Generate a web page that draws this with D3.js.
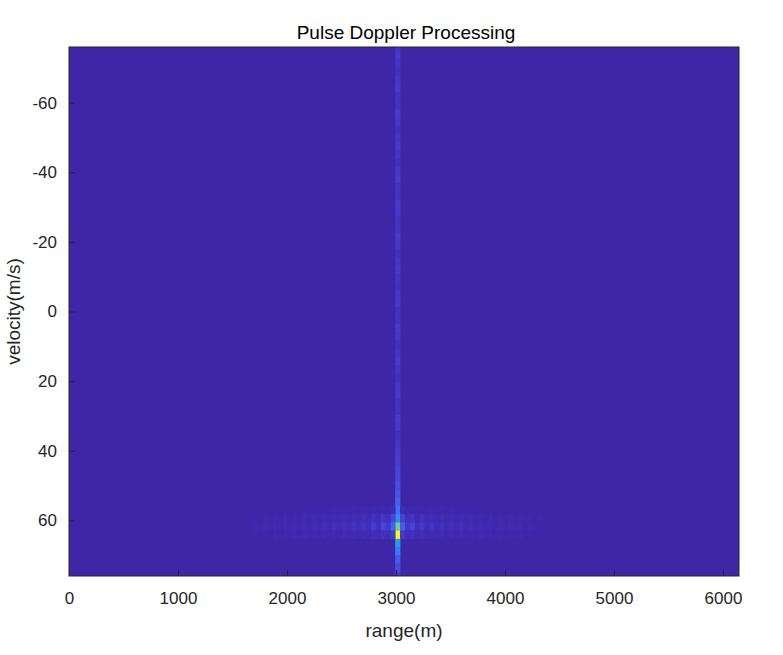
<!DOCTYPE html><html><head><meta charset="utf-8">
<script src="https://cdn.jsdelivr.net/npm/d3@7"></script>
<style>body{margin:0;background:#fff}text{font-family:"Liberation Sans",Arial,sans-serif;fill:#262626}</style>
</head><body><svg id="c" width="783" height="655"></svg><script>
// Data
const rangeDomain=[0,6147];
const velDomain=[-76,76];
const nVel=64, rangeBin=45, rowShift=1.2;
const targetRange=3000, targetVelRow=57; // row index (0 = -76)
const xTicks=[0,1000,2000,3000,4000,5000,6000];
const yTicks=[-60,-40,-20,0,20,40,60];
// Doppler cut at target column, offsets from target row -8..+5
const dopOffsets=[-8,-7,-6,-5,-4,-3,-2,-1,0,1,2,3,4,5];
const dopVals=[0.10,0.11,0.12,0.14,0.16,0.19,0.24,0.32,0.60,1.0,0.36,0.26,0.18,0.14];
const dopFloor=0.07;
// Range sidelobe envelope, |column offset| 1..29
const rngVals=[0.20,0.08,0.12,0.05,0.09,0.04,0.07,0.035,0.06,0.03,0.05,0.025,0.045,0.02,0.04,0.018,0.035,0.015,0.03,0.012,0.028,0.012,0.025,0.01,0.02,0.008,0.016,0.006,0.012];
const rowsWithSidelobes=[-2,-1,0,1];
const rowSideWeight=[0.15,0.6,1.0,0.45];

const parula=["#352a87","#3e26a8","#4538ca","#4852e6","#3f6ff8","#2a8cf6","#1fa5e0","#1ebcc8","#3fcaa8","#7bcf84","#b7c865","#e3bf48","#fbcd2f","#f6e41e","#f9fb0e"];
const color=d3.scaleLinear().domain(d3.range(parula.length).map(i=>i/(parula.length-1))).range(parula).clamp(true);

const svg=d3.select("#c");
const L=69,R=739,T=47,B=576;
const x=d3.scaleLinear().domain(rangeDomain).range([L,R]);
const y=d3.scaleLinear().domain(velDomain).range([T,B]);
const g=svg.append("g");
g.append("rect").attr("x",L).attr("y",T).attr("width",R-L).attr("height",B-T).attr("fill",color(0.07));
const dv=(velDomain[1]-velDomain[0])/nVel;
const tc=Math.round(targetRange/rangeBin);
const cells=[];
for(let r=-1;r<nVel;r++){
  const off=r-targetVelRow;
  const di=dopOffsets.indexOf(off);
  const dop=di>=0?dopVals[di]:dopFloor*(1+0.3*Math.cos(r*1.7));
  cells.push({r,c:tc,v:dop});
  const si=rowsWithSidelobes.indexOf(off);
  if(si>=0){
    rngVals.forEach((s,k)=>{
      cells.push({r,c:tc-k-1,v:s*rowSideWeight[si]});
      cells.push({r,c:tc+k+1,v:s*rowSideWeight[si]*0.9});
    });
  }
}
const plot=g.append("g");
svg.append("clipPath").attr("id","clip").append("rect").attr("x",L).attr("y",T).attr("width",R-L).attr("height",B-T);
plot.attr("clip-path","url(#clip)");
plot.selectAll("rect").data(cells).enter().append("rect")
 .attr("x",d=>x(d.c*rangeBin-rangeBin/2)).attr("width",x(rangeBin)-x(0)+0.3)
 .attr("y",d=>y(velDomain[0]+d.r*dv+rowShift)).attr("height",y(dv)-y(0)+0.3)
 .attr("fill",d=>color(0.07+d.v*0.93));
const fmt=d=>String(d);
const ax=svg.append("g").attr("transform",`translate(0,${B})`).call(d3.axisBottom(x).tickValues(xTicks).tickFormat(fmt).tickSize(-6).tickPadding(16));
const ay=svg.append("g").attr("transform",`translate(${L},0)`).call(d3.axisLeft(y).tickValues(yTicks).tickFormat(fmt).tickSize(-6).tickPadding(12));
[ax,ay].forEach(a=>{a.select(".domain").remove();a.selectAll("text").style("font-size","17px").attr("fill","#262626");a.selectAll("line").attr("stroke","#262626")});
svg.append("rect").attr("x",L).attr("y",T).attr("width",R-L).attr("height",B-T).attr("fill","none").attr("stroke","#262626").attr("stroke-width",1);
svg.append("text").attr("x",(L+R)/2+2).attr("y",39).attr("text-anchor","middle").style("font-size","19px").style("fill","#000").text("Pulse Doppler Processing");
svg.append("text").attr("x",(L+R)/2).attr("y",637).attr("text-anchor","middle").style("font-size","19px").text("range(m)");
svg.append("text").attr("transform",`translate(20,${(T+B)/2}) rotate(-90)`).attr("text-anchor","middle").style("font-size","19px").text("velocity(m/s)");
</script></body></html>
